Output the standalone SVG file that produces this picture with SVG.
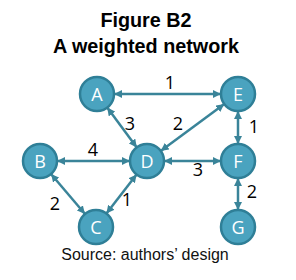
<svg xmlns="http://www.w3.org/2000/svg" width="296" height="280" viewBox="0 0 296 280">
<style>
.title{font-family:"Liberation Sans",Arial,sans-serif;font-weight:bold;font-size:19.8px;fill:#000;text-anchor:middle}
.src{font-family:"Liberation Sans",Arial,sans-serif;font-size:16px;fill:#111;text-anchor:middle}
.node circle{fill:#4aa3bf;stroke:#2f7f97;stroke-width:2.5}
.node text{font-family:"Open Sans","Noto Sans",sans-serif;font-size:18px;fill:#fff;text-anchor:middle}
.edge{stroke:#3a8499;stroke-width:2.5;fill:none;marker-start:url(#ah);marker-end:url(#ah)}
.lbl{font-family:"Open Sans","Noto Sans",sans-serif;font-size:18px;fill:#000;text-anchor:middle}
</style>
<defs>
<marker id="ah" viewBox="0 0 10 10" refX="10" refY="5" markerWidth="8" markerHeight="8" markerUnits="userSpaceOnUse" orient="auto-start-reverse">
<path d="M0,0 L10,5 L0,10 z" fill="#3a8499"/>
</marker>
</defs>
<rect width="296" height="280" fill="#fff"/>
<text class="title" x="146" y="27">Figure B2</text>
<text class="title" x="146" y="53">A weighted network</text>
<g id="connectors">
<line class="edge" x1="114" y1="94" x2="221" y2="94"/>
<line class="edge" x1="107.2" y1="107.6" x2="136.8" y2="147.4"/>
<line class="edge" x1="224.3" y1="104.1" x2="160.7" y2="150.9"/>
<line class="edge" x1="238" y1="111" x2="238" y2="144"/>
<line class="edge" x1="57" y1="161" x2="130" y2="161"/>
<line class="edge" x1="164" y1="161" x2="221" y2="161"/>
<line class="edge" x1="51" y1="174" x2="85" y2="214"/>
<line class="edge" x1="136.6" y1="174.4" x2="106.4" y2="213.6"/>
<line class="edge" x1="238" y1="178" x2="238" y2="210"/>
<text class="lbl" x="170" y="89">1</text>
<text class="lbl" x="130" y="130">3</text>
<text class="lbl" x="178" y="130">2</text>
<text class="lbl" x="254" y="133">1</text>
<text class="lbl" x="93" y="156">4</text>
<text class="lbl" x="198" y="176">3</text>
<text class="lbl" x="55" y="210">2</text>
<text class="lbl" x="127" y="206">1</text>
<text class="lbl" x="252" y="198">2</text>
</g>
<g id="A" class="node"><circle cx="97" cy="94" r="17"/><text x="97" y="100.5">A</text></g>
<g id="E" class="node"><circle cx="238" cy="94" r="17"/><text x="238" y="100.5">E</text></g>
<g id="B" class="node"><circle cx="40" cy="161" r="17"/><text x="40" y="167.5">B</text></g>
<g id="D" class="node"><circle cx="147" cy="161" r="17"/><text x="147" y="167.5">D</text></g>
<g id="F" class="node"><circle cx="238" cy="161" r="17"/><text x="238" y="167.5">F</text></g>
<g id="C" class="node"><circle cx="96" cy="227" r="17"/><text x="96" y="233.5">C</text></g>
<g id="G" class="node"><circle cx="238" cy="227" r="17"/><text x="238" y="233.5">G</text></g>
<text class="src" x="145" y="260">Source: authors’ design</text>
</svg>
